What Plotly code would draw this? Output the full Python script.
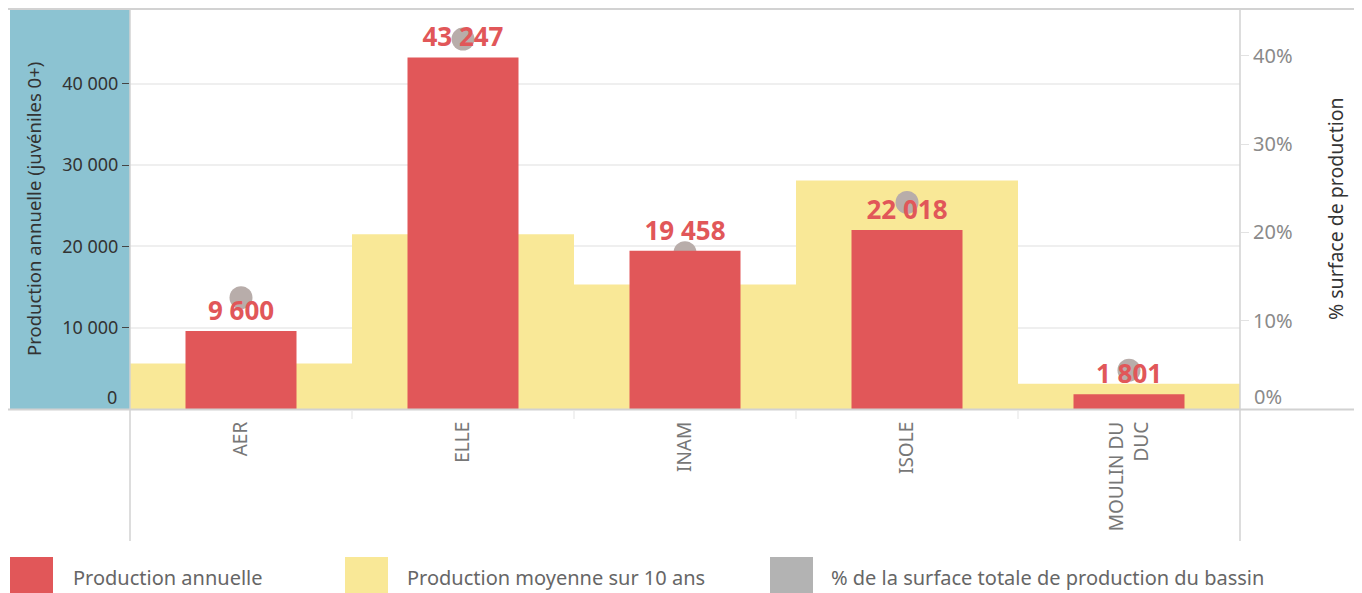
import plotly.graph_objects as go

# ---- data ----
categories = ["AER", "ELLE", "INAM", "ISOLE", "MOULIN DU<br>DUC"]
production_annuelle = [9600, 43247, 19458, 22018, 1801]
production_moyenne_10ans = [5600, 21500, 15300, 28100, 3100]
pct_surface = [0.126, 0.419, 0.177, 0.234, 0.044]
labels_production = ["9 600", "43 247", "19 458", "22 018", "1 801"]
left_tickvals = [10000, 20000, 30000, 40000]
left_ticktext = ["10 000", "20 000", "30 000", "40 000"]
right_tickvals = [0.1, 0.2, 0.3, 0.4]
right_ticktext = ["10%", "20%", "30%", "40%"]
zero_left_label = "0"
zero_right_label = "0%"
legend_labels = ["Production annuelle", "Production moyenne sur 10 ans",
                 "% de la surface totale de production du bassin"]

RED = "#E15759"
YELLOW = "#F9E897"
DOT = "#B8ADAA"
LEG_GREY = "#B3B3B3"
BLUE = "#8CC3D2"
FONT = "Noto Sans"

# page body has an 8px margin: the figure starts at (8, 8) of the window
OFF = 8
W, H = 1362 - OFF, 593 - OFF
PLOT_X0, PLOT_X1, PLOT_Y0, PLOT_Y1 = 130, 1240, 9, 409  # in window pixels
L = PLOT_X0 - OFF
T = PLOT_Y0 - OFF
R = W - (PLOT_X1 - OFF)
B = H - (PLOT_Y1 - OFF)
PW, PH = PLOT_X1 - PLOT_X0, PLOT_Y1 - PLOT_Y0


def px(xpix):
    return (xpix - PLOT_X0) / PW


def py(ypix):
    return (PLOT_Y1 - ypix) / PH


fig = go.Figure()

fig.add_trace(go.Bar(
    x=categories, y=production_moyenne_10ans, width=1.0,
    marker=dict(color=YELLOW, line=dict(width=0)),
    name=legend_labels[1], yaxis="y", showlegend=False,
))
fig.add_trace(go.Scatter(
    x=categories, y=pct_surface, mode="markers",
    marker=dict(size=23, color=DOT),
    name=legend_labels[2], yaxis="y2", showlegend=False,
))
fig.add_trace(go.Bar(
    x=categories, y=production_annuelle, width=0.5,
    marker=dict(color=RED, line=dict(width=0)),
    text=labels_production, textposition="outside", constraintext="none",
    textfont=dict(family=FONT, size=26, color=RED, weight="bold"),
    cliponaxis=False,
    name=legend_labels[0], yaxis="y3", showlegend=False,
))

yrange = [0, 49200]
y2range = [0, 0.453]

fig.update_layout(
    width=W, height=H,
    margin=dict(l=L, r=R, t=T, b=B, pad=0),
    paper_bgcolor="white", plot_bgcolor="white",
    barmode="overlay",
    showlegend=False,
    font=dict(family=FONT),
    xaxis=dict(
        type="category", range=[-0.5, 4.5],
        tickangle=-90, tickfont=dict(size=19, color="#777777"),
        ticklabelstandoff=8,
        showgrid=False, zeroline=False, showline=False, ticks="",
    ),
    yaxis=dict(
        range=yrange, tickvals=left_tickvals, ticktext=left_ticktext,
        tickfont=dict(size=18, color="#333333"),
        ticks="outside", ticklen=7, tickcolor="#444444", tickwidth=1,
        showgrid=True, gridcolor="#EFEFEF", gridwidth=1.5,
        zeroline=False, showline=False,
    ),
    yaxis2=dict(
        range=y2range, overlaying="y", side="right",
        tickvals=right_tickvals, ticktext=right_ticktext,
        tickfont=dict(size=20, color="#8A8A8A"),
        ticks="outside", ticklen=8, tickcolor="#E2E2E2",
        showgrid=False, zeroline=False, showline=False,
    ),
    yaxis3=dict(
        range=yrange, overlaying="y", visible=False,
        showgrid=False, zeroline=False,
    ),
)

shapes = []
# blue panel behind left axis
shapes.append(dict(type="rect", xref="paper", yref="paper",
                   x0=px(10), x1=px(130), y0=py(409), y1=py(9),
                   fillcolor=BLUE, line=dict(width=0), layer="below"))
# frame lines
LINE = "#D2D2D2"
shapes.append(dict(type="line", xref="paper", yref="paper",
                   x0=px(8), x1=px(1362), y0=py(9), y1=py(9),
                   line=dict(color=LINE, width=2)))
shapes.append(dict(type="line", xref="paper", yref="paper",
                   x0=px(8), x1=px(1362), y0=py(409.5), y1=py(409.5),
                   line=dict(color=LINE, width=2)))
shapes.append(dict(type="line", xref="paper", yref="paper",
                   x0=px(130), x1=px(130), y0=py(9), y1=py(541),
                   line=dict(color=LINE, width=1.5)))
shapes.append(dict(type="line", xref="paper", yref="paper",
                   x0=px(1240), x1=px(1240), y0=py(9), y1=py(541),
                   line=dict(color=LINE, width=1.5)))
# small category separators below the axis
for k in range(len(categories) - 1):
    shapes.append(dict(type="line", xref="x", yref="paper",
                       x0=k + 0.5, x1=k + 0.5, y0=py(411), y1=py(419),
                       line=dict(color="#ECECEC", width=1.5)))

annotations = []
# zero labels sit slightly above the baseline, as in the original
annotations.append(dict(xref="paper", yref="paper", x=px(119), y=py(397),
                        text=zero_left_label, showarrow=False,
                        xanchor="right", yanchor="middle",
                        font=dict(family=FONT, size=18, color="#333333")))
annotations.append(dict(xref="paper", yref="paper", x=px(1252), y=py(396),
                        text=zero_right_label, showarrow=False,
                        xanchor="left", yanchor="middle",
                        font=dict(family=FONT, size=20, color="#8A8A8A")))

# legend swatches
legend_swatch_x = [10, 345, 770]
legend_text_x = [71, 405, 829]
legend_colors = [RED, YELLOW, LEG_GREY]
for sx, tx, col, lab in zip(legend_swatch_x, legend_text_x, legend_colors, legend_labels):
    shapes.append(dict(type="rect", xref="paper", yref="paper",
                       x0=px(sx), x1=px(sx + 43), y0=py(557), y1=py(600),
                       fillcolor=col, line=dict(width=0)))
    annotations.append(dict(xref="paper", yref="paper", x=px(tx), y=py(577),
                            text=lab, showarrow=False, xanchor="left", yanchor="middle",
                            font=dict(family=FONT, size=20, color="#666666")))

# axis titles
annotations.append(dict(xref="paper", yref="paper", x=px(33), y=py(209),
                        text="Production annuelle (juvéniles 0+)", textangle=-90,
                        showarrow=False, xanchor="center", yanchor="middle",
                        font=dict(family=FONT, size=18.5, color="#333333")))
annotations.append(dict(xref="paper", yref="paper", x=px(1335), y=py(209),
                        text="% surface de production", textangle=-90,
                        showarrow=False, xanchor="center", yanchor="middle",
                        font=dict(family=FONT, size=19.5, color="#333333")))

fig.update_layout(shapes=shapes, annotations=annotations)

fig.write_html("out.html")
